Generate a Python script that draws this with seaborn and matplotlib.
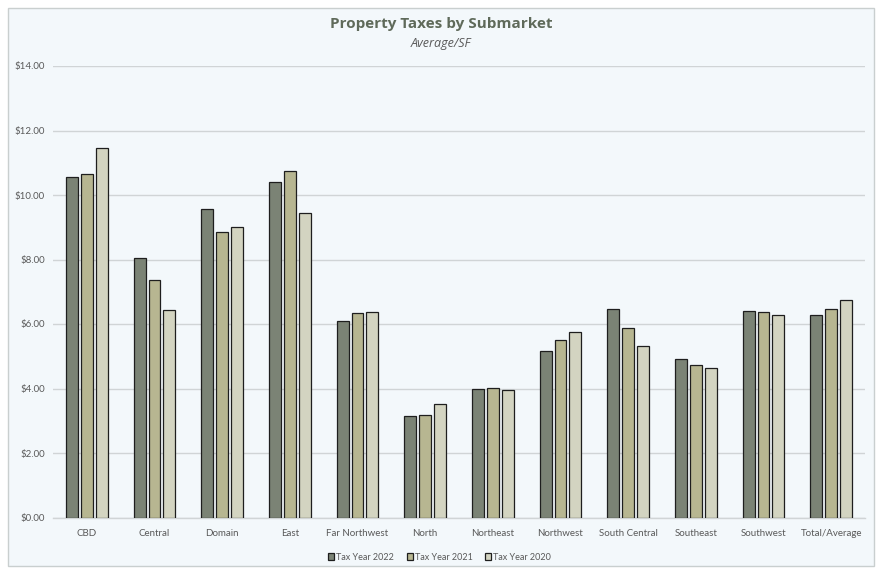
import pandas as pd
import matplotlib.pyplot as plt
import seaborn as sns
from matplotlib.patches import Rectangle
from matplotlib.ticker import FuncFormatter

# Data ($/SF)
submarkets = ['CBD', 'Central', 'Domain', 'East', 'Far Northwest', 'North', 'Northeast',
              'Northwest', 'South Central', 'Southeast', 'Southwest', 'Total/Average']
tax_2022 = [10.56, 8.06, 9.58, 10.40, 6.09, 3.15, 3.99, 5.17, 6.47, 4.91, 6.39, 6.28]
tax_2021 = [10.65, 7.37, 8.86, 10.74, 6.34, 3.18, 4.02, 5.50, 5.89, 4.73, 6.37, 6.46]
tax_2020 = [11.45, 6.42, 9.00, 9.45, 6.36, 3.51, 3.96, 5.75, 5.33, 4.65, 6.28, 6.74]
series = ['Tax Year 2022', 'Tax Year 2021', 'Tax Year 2020']
colors = ['#7b8573', '#bebc8a', '#d6d7be']

bg = '#f3f8fb'
text_col = '#595959'

df = pd.DataFrame({'Submarket': submarkets,
                   series[0]: tax_2022, series[1]: tax_2021, series[2]: tax_2020})
long_df = df.melt(id_vars='Submarket', var_name='Series', value_name='Tax')

plt.rcParams['font.family'] = ['Lato', 'DejaVu Sans']

fig = plt.figure(figsize=(8.82, 5.70), dpi=100, facecolor='white')
fig.patches.append(Rectangle((8 / 882, 4 / 570), 866 / 882, 558 / 570,
                             transform=fig.transFigure, facecolor=bg,
                             edgecolor='#c9cfcf', linewidth=1.0, zorder=-10))

ax = fig.add_axes([53 / 882, 1 - 517.5 / 570, 812 / 882, 451.5 / 570])
ax.set_facecolor(bg)

sns.barplot(data=long_df, x='Submarket', y='Tax', hue='Series', palette=colors,
            width=0.66, gap=0.2, edgecolor='#1e1e1e', linewidth=0.9,
            ax=ax, zorder=3)

ax.set_ylim(0, 14)
ax.set_xlim(-0.5, len(submarkets) - 0.5)
ax.set_yticks(range(0, 15, 2))
ax.yaxis.set_major_formatter(FuncFormatter(lambda v, p: f'${v:.2f}'))
ax.grid(axis='y', color='#d0d4d6', linewidth=1.0, zorder=0)
ax.set_axisbelow(True)
for s in ['top', 'right', 'left']:
    ax.spines[s].set_visible(False)
ax.spines['bottom'].set_color('#d0d4d6')
ax.spines['bottom'].set_linewidth(1.0)
ax.tick_params(axis='both', length=0, labelsize=7, colors=text_col, pad=8)
ax.tick_params(axis='y', pad=6)
ax.set_xlabel('')
ax.set_ylabel('')

leg = ax.legend(loc='upper center', bbox_to_anchor=(0.476, -0.06), ncol=3, frameon=False,
                fontsize=6.5, handlelength=0.7, handleheight=0.7, handletextpad=0.2,
                columnspacing=1.4)
for t in leg.get_texts():
    t.set_color(text_col)

fig.text(0.5, 1 - 24 / 570, 'Property Taxes by Submarket', ha='center', va='center',
         fontsize=11, fontweight='bold', color='#5f6a5a', family=['Open Sans', 'DejaVu Sans'])
fig.text(0.5, 1 - 43 / 570, 'Average/SF', ha='center', va='center',
         fontsize=9, style='italic', color=text_col, family=['Open Sans', 'DejaVu Sans'])

fig.savefig('out.png', dpi=100, facecolor='white')
